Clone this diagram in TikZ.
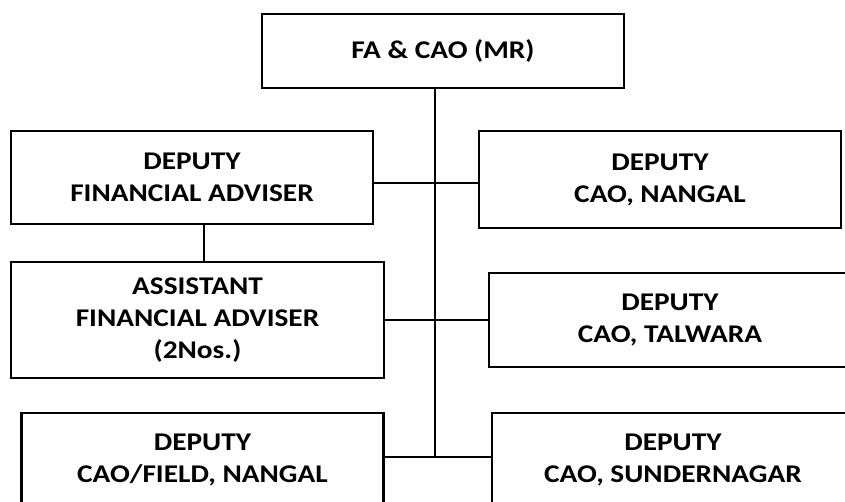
\documentclass[tikz,border=0pt]{standalone}
\usepackage{fontspec}
\setmainfont{Carlito}[FakeStretch=1.15]
\usepackage{tikz}
\usetikzlibrary{positioning}

\begin{document}
\begin{tikzpicture}[x=1pt, y=-1pt,
		post/.style={draw, rectangle, line width=2.2pt, minimum width=362pt, align=center, inner sep=0pt, font=\fontsize{25.5}{32}\selectfont\bfseries},
		link/.style={line width=2pt}
		]
		\useasboundingbox (0,0) rectangle (845,502);
		% Nodes
		\node[post, minimum height=74pt] (head) at (443,51) {FA \& CAO (MR)};
		\node[post, minimum height=93pt] (dfa) at (192,177.5) {DEPUTY\\FINANCIAL ADVISER};
		\node[post, minimum height=97pt] (nangal) at (660,179.5) {DEPUTY\\CAO, NANGAL};
		\node[post, minimum width=373pt, minimum height=116pt] (afa) at (197.5,320) {ASSISTANT\\FINANCIAL ADVISER\\(2Nos.)};
		\node[post, minimum height=94pt] (talwara) at (670,320) {DEPUTY\\CAO, TALWARA};
		\node[post, minimum height=94pt] (field) at (202.5,460) {DEPUTY\\CAO/FIELD, NANGAL};
		\node[post, minimum height=94pt] (sunder) at (673,460) {DEPUTY\\CAO, SUNDERNAGAR};
		
		% Junctions
		\coordinate (spine) at (435,457);
		\coordinate (upper) at (435,183);
		
		% Lines
		\draw[link] (head.south -| spine) -- (spine);
		\draw[link] (dfa.east |- upper) -- (nangal.west |- upper);
		\draw[link] (afa.east) -- (talwara.west);
		\draw[link] (field.east |- spine) -- (sunder.west |- spine);
		\draw[link] ([xshift=12pt]dfa.south) -- ([xshift=12pt]dfa.south |- afa.north);
	\end{tikzpicture}
\end{document}
